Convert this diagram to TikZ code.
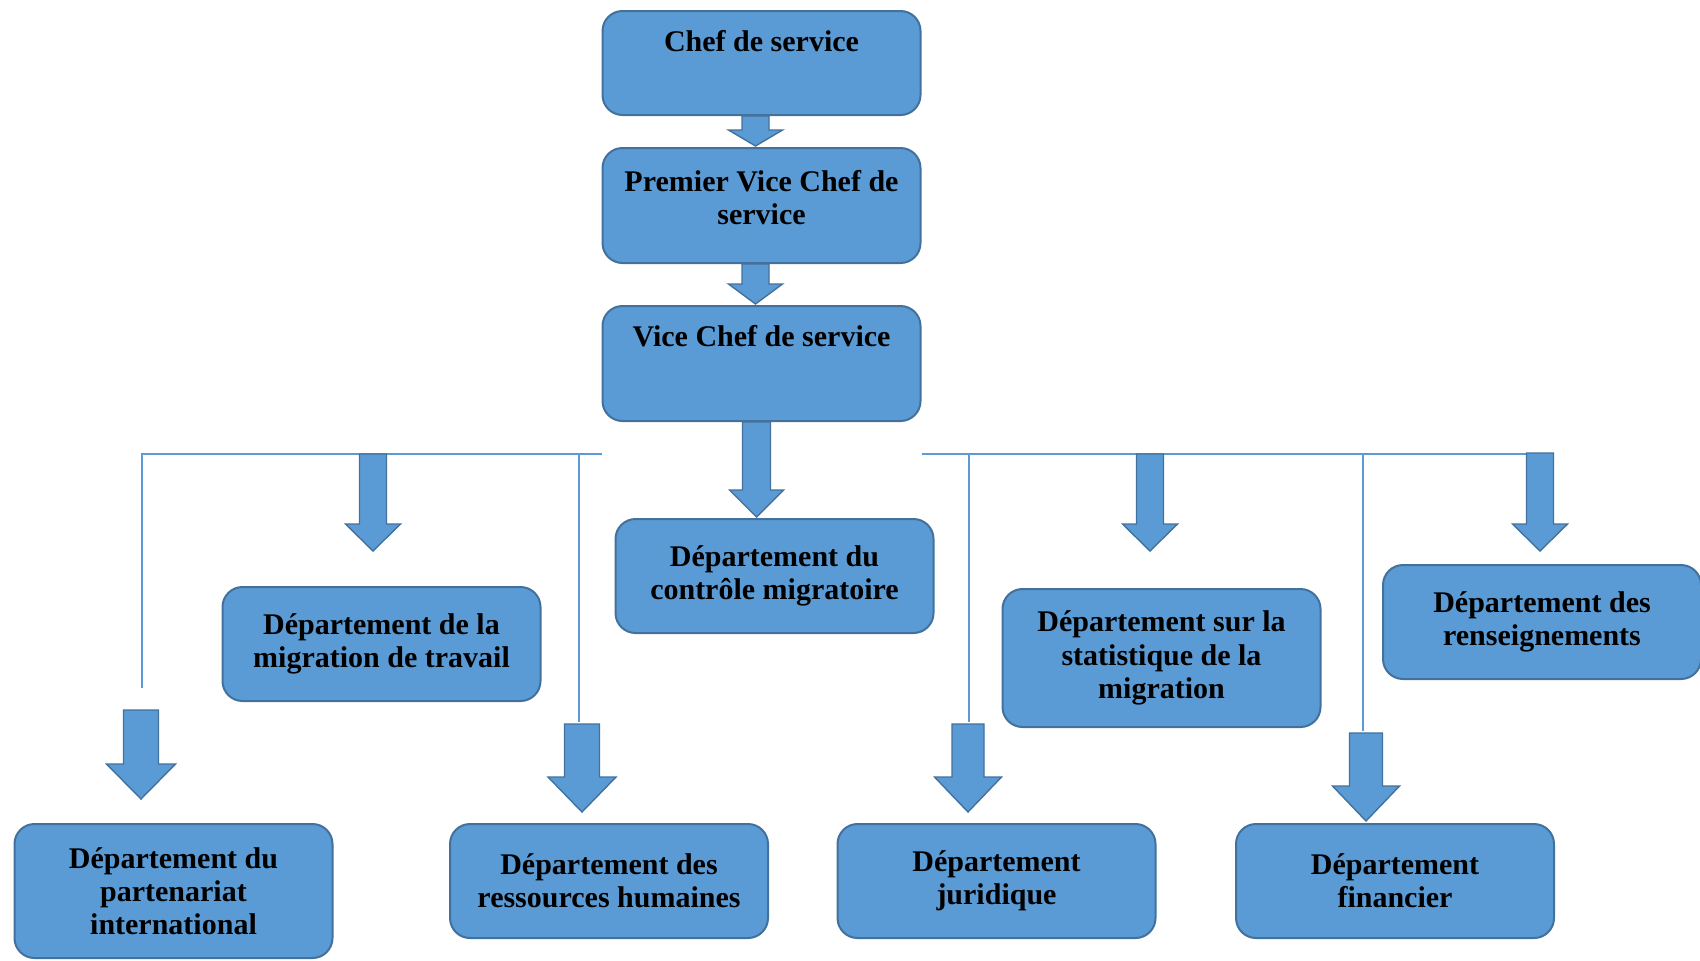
\documentclass[tikz,border=0pt]{standalone}
\usepackage{fontspec}
\setmainfont{Liberation Serif}
\usetikzlibrary{calc}
\definecolor{boxfill}{HTML}{5B9BD5}
\definecolor{boxedge}{HTML}{41719C}
\definecolor{linecol}{HTML}{5B9BD5}
\tikzset{
  orgbox/.style={draw=boxedge, fill=boxfill, line width=1pt, rounded corners=10pt,
    minimum width=159pt, inner sep=0pt, align=center,
    font=\fontsize{15pt}{16.6pt}\selectfont\bfseries},
  toptext/.style={anchor=north, inner sep=0pt, align=center,
    font=\fontsize{15pt}{16.6pt}\selectfont\bfseries},
  barrow/.style={draw=boxedge, fill=boxfill, line width=0.7pt, line join=miter},
  treeline/.style={draw=linecol, line width=0.8pt}
}
\newcommand\blockarrow[5]{%
  \draw[barrow] let \p1=(#1), \p2=(#2) in
   (\x1-#3*0.5pt,\y1) -- (\x1+#3*0.5pt,\y1) -- (\x1+#3*0.5pt,\y2+#5*0.5pt)
   -- (\x1+#4*0.5pt,\y2+#5*0.5pt) -- (\x1,\y2) -- (\x1-#4*0.5pt,\y2+#5*0.5pt)
   -- (\x1-#3*0.5pt,\y2+#5*0.5pt) -- cycle;}
\begin{document}
\begin{tikzpicture}[x=0.5pt,y=-0.5pt]
\useasboundingbox[fill=white] (0,0) rectangle (1700,960);
% top chain
\node[orgbox, minimum height=52pt] (chef) at (761.5,63) {};
\node[orgbox, minimum height=57.5pt] (prem) at (761.5,205.5) {};
\node[orgbox, minimum height=57.5pt] (vice) at (761.5,363.5) {};
\node[toptext] (chefT) at ($(chef.north)+(0,18)$) {\strut Chef de service};
\node[toptext] (premT) at ($(prem.north)+(0,21)$) {\strut Premier Vice Chef de\\service};
\node[toptext] (viceT) at ($(vice.north)+(0,18)$) {\strut Vice Chef de service};
% departments
\node[orgbox, minimum height=57pt] (ctrl) at (774.5,576) {Département du\\contrôle migratoire};
\node[orgbox, minimum height=57pt] (trav) at (381.5,644) {Département de la\\migration de travail};
\node[orgbox, minimum height=67pt] (part) at (173.5,891) {Département du\\partenariat\\international};
\node[orgbox, minimum height=57pt] (ress) at (609,881) {Département des\\ressources humaines};
\node[orgbox, minimum height=57pt] (jur) at (996.5,881) {Département\\juridique};
\node[orgbox, minimum height=57pt] (fin) at (1395,881) {Département\\financier};
\node[orgbox, minimum height=69pt] (stat) at (1161.5,658) {Département sur la\\statistique de la\\migration};
\node[orgbox, minimum height=57pt] (rens) at (1542,622) {Département des\\renseignements};
% tree lines
\coordinate (hl) at (142,454);
\coordinate (hr) at (1554,454);
\coordinate (vPart) at (142,688);
\coordinate (tRess) at (579,454); \coordinate (vRess) at (579,722);
\coordinate (tJur) at (969,454); \coordinate (vJur) at (969,722);
\coordinate (tFin) at (1363,454); \coordinate (vFin) at (1363,731);
\draw[treeline] (vice.west |- hl) -- (hl) -- (vPart);
\draw[treeline] (vice.east |- hr) -- (hr);
\draw[treeline] (tRess) -- (vRess);
\draw[treeline] (tJur) -- (vJur);
\draw[treeline] (tFin) -- (vFin);
% block arrows
\blockarrow{$(chef.south)+(-6,0)$}{$(prem.north)+(-6,-1)$}{13.5}{27}{16}
\blockarrow{$(prem.south)+(-6,0)$}{$(vice.north)+(-6,-1)$}{13.5}{27}{20}
\blockarrow{$(vice.south)+(-5,0)$}{$(ctrl.north)+(-18,-1)$}{14}{27}{27}
\coordinate (aTravS) at (373,454); \coordinate (aTravE) at (373,551);
\coordinate (aStatS) at (1150,454); \coordinate (aStatE) at (1150,551);
\coordinate (aRensS) at (1540,453); \coordinate (aRensE) at (1540,551);
\coordinate (aPartS) at (141,710); \coordinate (aPartE) at (141,799);
\coordinate (aRessS) at (582,724); \coordinate (aRessE) at (582,812);
\coordinate (aJurS) at (968,724); \coordinate (aJurE) at (968,812);
\coordinate (aFinS) at (1366,733); \coordinate (aFinE) at (1366,821);
\blockarrow{aTravS}{aTravE}{13.5}{27.5}{27}
\blockarrow{aStatS}{aStatE}{13.5}{27.5}{27}
\blockarrow{aRensS}{aRensE}{13.5}{27.5}{27}
\blockarrow{aPartS}{aPartE}{17.5}{34.5}{35}
\blockarrow{aRessS}{aRessE}{17.5}{34}{35}
\blockarrow{aJurS}{aJurE}{16}{33.5}{35}
\blockarrow{aFinS}{aFinE}{16.5}{33.5}{35}
\end{tikzpicture}
\end{document}
